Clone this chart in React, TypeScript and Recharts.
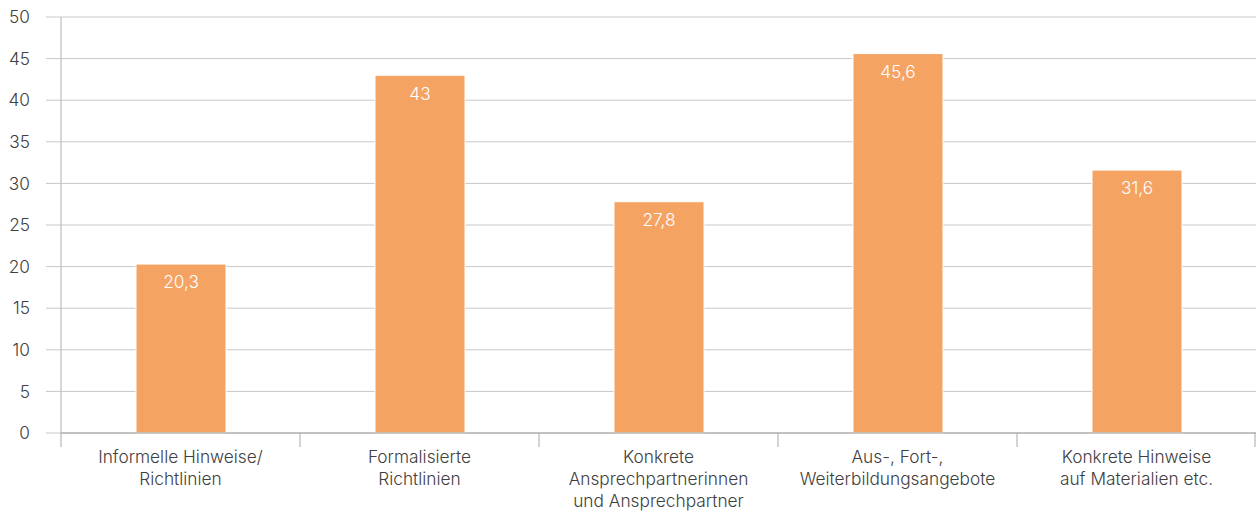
import { BarChart, Bar, XAxis, YAxis, CartesianGrid, LabelList } from 'recharts';

const categories = [
  ['Informelle Hinweise/', 'Richtlinien'],
  ['Formalisierte', 'Richtlinien'],
  ['Konkrete', 'Ansprechpartnerinnen', 'und Ansprechpartner'],
  ['Aus-, Fort-,', 'Weiterbildungsangebote'],
  ['Konkrete Hinweise', 'auf Materialien etc.'],
];
const values = [20.3, 43, 27.8, 45.6, 31.6];
const yTicks = [0, 5, 10, 15, 20, 25, 30, 35, 40, 45, 50];

const data = categories.map((c, i) => ({ name: c.join(' '), lines: c, value: values[i] }));

const W = 1256;
const H = 516;
const LEFT = 61;
const BAND = (W - LEFT) / categories.length;
const FONT = 'Inter, "Noto Sans", sans-serif';

const CategoryTick = ({ x, y, index }) => {
  const lines = categories[index] || [];
  const last = index === categories.length - 1;
  return (
    <g>
      <line x1={x - BAND / 2} x2={x - BAND / 2} y1={y} y2={y + 14} stroke="#a8a8a8" />
      {last && <line x1={x + BAND / 2 - 1} x2={x + BAND / 2 - 1} y1={y} y2={y + 14} stroke="#a8a8a8" />}
      <text x={x} y={y + 30} textAnchor="middle" fill="#404040" fontSize={17.3} fontWeight={300} fontFamily={FONT}>
        {lines.map((l, i) => (
          <tspan key={i} x={x} dy={i === 0 ? 0 : 22}>{l}</tspan>
        ))}
      </text>
    </g>
  );
};

export default function App() {
  return (
    <div style={{ position: 'absolute', left: 0, top: 0, background: '#fff' }}>
      <BarChart width={W} height={H} data={data} margin={{ top: 17, right: 0, left: 0, bottom: 0 }}>
        <CartesianGrid vertical={false} stroke="#c8c8c8" />
        <XAxis
          dataKey="name"
          height={83}
          interval={0}
          tickLine={false}
          tickSize={0}
          tickMargin={0}
          axisLine={{ stroke: '#a0a0a0' }}
          tick={CategoryTick}
        />
        <YAxis
          width={LEFT}
          domain={[0, 50]}
          ticks={yTicks}
          tickSize={15}
          tickMargin={16}
          axisLine={{ stroke: '#b0b0b0' }}
          tickLine={{ stroke: '#c8c8c8' }}
          tick={{ fill: '#404040', fontSize: 17.3, fontWeight: 300, fontFamily: FONT }}
        />
        <Bar dataKey="value" fill="#f5a363" stroke="#fff" strokeWidth={1} barSize={90} isAnimationActive={false}>
          <LabelList
            dataKey="value"
            position="insideTop"
            offset={12}
            fill="#fff"
            fontSize={17.3}
            fontWeight={300}
            fontFamily={FONT}
            formatter={(v) => String(v).replace('.', ',')}
          />
        </Bar>
      </BarChart>
    </div>
  );
}
